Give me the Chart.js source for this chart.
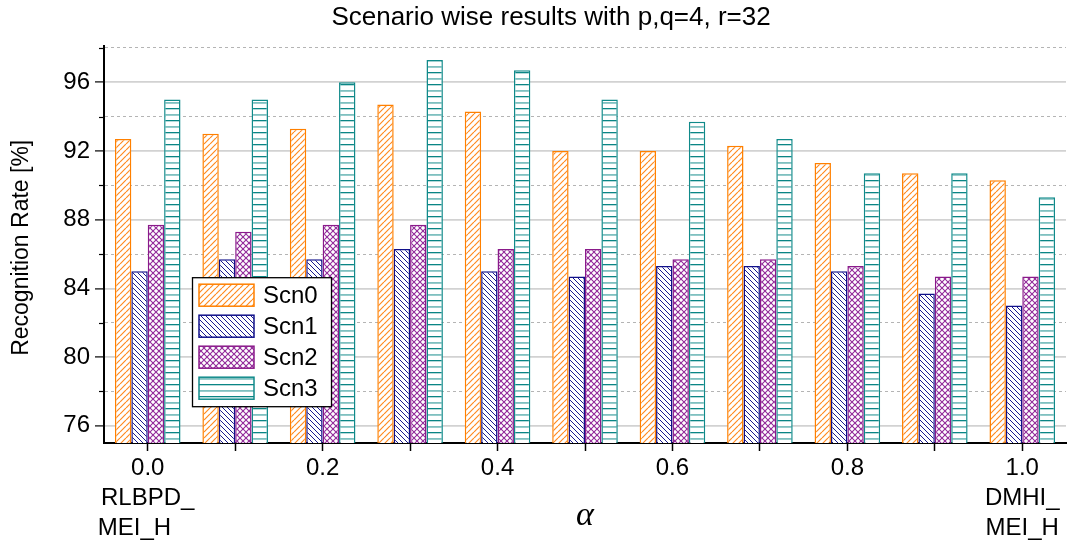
<!DOCTYPE html>
<html><head><meta charset="utf-8">
<script src="https://cdn.jsdelivr.net/npm/chart.js@4.4.1/dist/chart.umd.min.js"></script>
<style>html,body{margin:0;padding:0;background:#fff}</style>
</head><body>
<canvas id="c" width="1067" height="546" style="display:block;width:1067px;height:546px"></canvas>
<script>
// ---- data ----
const alphaValues = ['0.0','0.1','0.2','0.3','0.4','0.5','0.6','0.7','0.8','0.9','1.0'];
const xTickLabels = [['0.0','RLBPD_','MEI_H    '], '', '0.2', '', '0.4', '', '0.6', '', '0.8', '', ['1.0','DMHI_','MEI_H']];
const seriesNames = ['Scn0','Scn1','Scn2','Scn3'];
const scn0 = [92.7, 93.0, 93.3, 94.7, 94.3, 92.0, 92.0, 92.3, 91.3, 90.7, 90.3];
const scn1 = [85.0, 85.7, 85.7, 86.3, 85.0, 84.7, 85.3, 85.3, 85.0, 83.7, 83.0];
const scn2 = [87.7, 87.3, 87.7, 87.7, 86.3, 86.3, 85.7, 85.7, 85.3, 84.7, 84.7];
const scn3 = [95.0, 95.0, 96.0, 97.3, 96.7, 95.0, 93.7, 92.7, 90.7, 90.7, 89.3];
const yMajorTicks = [76, 80, 84, 88, 92, 96];
const yMinorTicks = [78, 82, 86, 90, 94, 98];

const canvas = document.getElementById('c');
const ctx = canvas.getContext('2d');

function makePattern(kind, color, size, lw, color2) {
  const c = document.createElement('canvas');
  c.width = size; c.height = size;
  const g = c.getContext('2d');
  g.fillStyle = '#fff'; g.fillRect(0, 0, size, size);
  g.strokeStyle = color; g.lineWidth = lw;
  if (kind === 'fwd' || kind === 'cross') {
    g.beginPath();
    for (let k = -1; k <= 1; k++) { g.moveTo(k*size, size); g.lineTo(k*size + size, 0); }
    g.stroke();
  }
  if (kind === 'back' || kind === 'cross') {
    g.beginPath();
    for (let k = -1; k <= 1; k++) { g.moveTo(k*size, 0); g.lineTo(k*size + size, size); }
    g.stroke();
  }
  if (kind === 'horiz') {
    g.fillStyle = color; g.fillRect(0, 0, size, 1.3);
    g.fillStyle = color2; g.fillRect(0, size/2, size, 1.8);
  }
  return ctx.createPattern(c, 'repeat');
}

const pat0 = makePattern('fwd', '#ff8a20', 6, 1.2);
const pat1 = makePattern('back', '#1a1a90', 5, 1.0);
const pat2 = makePattern('cross', '#922a9a', 6, 1.1);
const pat3 = makePattern('horiz', '#0a8585', 12, 1, '#7fc0c0');

const legendBox = {
  id: 'legendBox',
  afterDraw(chart) {
    const {ctx, chartArea, scales} = chart;
    ctx.save();
    // minor y ticks (short)
    ctx.strokeStyle = '#000'; ctx.lineWidth = 1.2;
    yMinorTicks.forEach(v => {
      const y = Math.round(scales.y.getPixelForValue(v)) + 0.5;
      ctx.beginPath(); ctx.moveTo(chartArea.left - 5, y); ctx.lineTo(chartArea.left, y); ctx.stroke();
    });
    const x0 = chartArea.left + 88, y0 = chartArea.top + 231, w = 139, h = 129;
    ctx.fillStyle = '#fff'; ctx.fillRect(x0, y0, w, h);
    ctx.strokeStyle = '#000'; ctx.lineWidth = 1.3; ctx.strokeRect(x0 + 0.5, y0 + 0.5, w, h);
    chart.data.datasets.forEach((ds, i) => {
      const sy = y0 + 7 + i * 31;
      ctx.fillStyle = ds.backgroundColor; ctx.fillRect(x0 + 7, sy, 55, 22);
      ctx.strokeStyle = ds.borderColor; ctx.lineWidth = 1.5; ctx.strokeRect(x0 + 7, sy, 55, 22);
      ctx.fillStyle = '#000'; ctx.font = '24px "Liberation Sans", Arial, sans-serif';
      ctx.textBaseline = 'middle'; ctx.textAlign = 'left';
      ctx.fillText(ds.label, x0 + 71, sy + 12);
    });
    ctx.restore();
  }
};

Chart.defaults.font.family = '"Liberation Sans", Arial, sans-serif';
Chart.defaults.color = '#000';

new Chart(ctx, {
  type: 'bar',
  data: {
    labels: alphaValues,
    datasets: [
      {label: seriesNames[0], data: scn0, backgroundColor: pat0, borderColor: '#ff8000'},
      {label: seriesNames[1], data: scn1, backgroundColor: pat1, borderColor: '#10108a'},
      {label: seriesNames[2], data: scn2, backgroundColor: pat2, borderColor: '#8a1a8a'},
      {label: seriesNames[3], data: scn3, backgroundColor: pat3, borderColor: '#108a8a'}
    ]
  },
  options: {
    responsive: false,
    animation: false,
    devicePixelRatio: 1,
    layout: {padding: {left: 0, right: 1, top: 0, bottom: 0}},
    datasets: {bar: {borderWidth: 1.5, categoryPercentage: 0.75, barPercentage: 1.0}},
    plugins: {
      legend: {display: false},
      tooltip: {enabled: false},
      title: {
        display: true,
        text: '     Scenario wise results with p,q=4, r=32',
        font: {size: 26, weight: 'normal', lineHeight: 1.2},
        color: '#000',
        padding: {top: 2, bottom: 13}
      }
    },
    scales: {
      x: {
        type: 'category',
        offset: true,
        grid: {display: true, drawOnChartArea: false, drawTicks: true, offset: false,
               tickLength: 8, tickColor: '#000', tickWidth: 1.5},
        border: {display: true, color: '#000', width: 2},
        ticks: {
          autoSkip: false, maxRotation: 0, minRotation: 0, padding: 2,
          font: {size: 24, lineHeight: 1.25},
          callback: (v, i) => xTickLabels[i]
        },
        title: {display: true, text: 'α',
                font: {family: '"Liberation Serif", "DejaVu Serif", serif', style: 'italic', size: 34, lineHeight: 1.2},
                padding: {top: 0, bottom: 10}},
        afterFit: s => { s.height = 103; }
      },
      y: {
        min: 75, max: 98.1,
        afterBuildTicks: s => {
          s.ticks = yMajorTicks.concat(yMinorTicks).sort((a, b) => a - b).map(v => ({value: v}));
        },
        grid: {
          drawTicks: true, tickLength: 9,
          color: c => (c.tick && c.tick.value % 4 === 0) ? '#d2d2d2' : '#b4b4b4',
          lineWidth: c => (c.tick && c.tick.value % 4 === 0) ? 1.8 : 1,
          tickColor: c => (c.tick && c.tick.value % 4 === 0) ? '#000' : 'rgba(0,0,0,0)',
          tickWidth: 1.2
        },
        border: {display: true, color: '#000', width: 2,
                 dash: c => (c.tick && c.tick.value % 4 !== 0) ? [3, 3] : []},
        ticks: {
          padding: 5,
          font: {size: 24},
          callback: v => (v % 4 === 0 ? String(v) : '')
        },
        title: {display: true, text: 'Recognition Rate [%] ',
                font: {size: 23, lineHeight: 1.2},
                padding: {top: 8, bottom: 0}},
        afterFit: s => { s.width = 104; }
      }
    }
  },
  plugins: [legendBox]
});
</script>
</body></html>
